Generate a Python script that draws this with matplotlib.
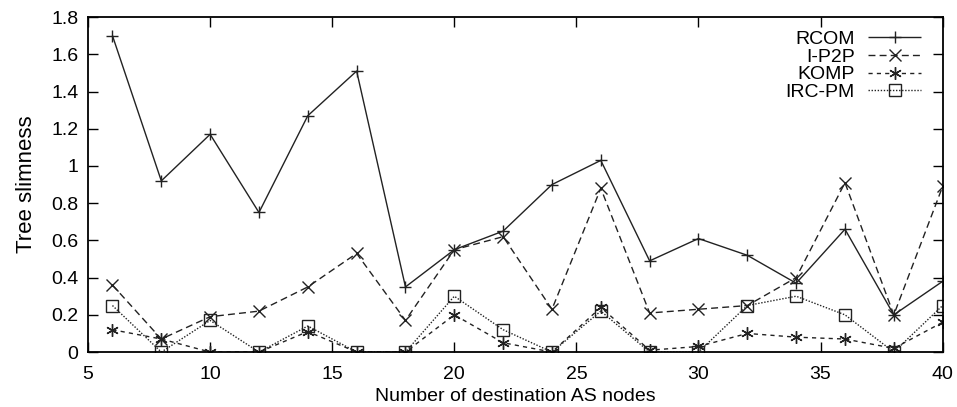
"""Tree slimness versus number of destination AS nodes."""

import matplotlib

matplotlib.use("Agg")
import matplotlib.pyplot as plt

plt.rcParams["font.family"] = ["Liberation Sans", "DejaVu Sans"]

NODES = [6, 8, 10, 12, 14, 16, 18, 20, 22, 24, 26, 28, 30, 32, 34, 36, 38, 40]
RCOM = [1.70, 0.92, 1.17, 0.75, 1.27, 1.51, 0.35, 0.55, 0.65, 0.90,
        1.03, 0.49, 0.61, 0.52, 0.37, 0.66, 0.20, 0.38]
I_P2P = [0.36, 0.07, 0.19, 0.22, 0.35, 0.53, 0.17, 0.55, 0.62, 0.23,
         0.88, 0.21, 0.23, 0.25, 0.40, 0.91, 0.20, 0.89]
KOMP = [0.12, 0.07, 0.00, 0.00, 0.11, 0.00, 0.00, 0.20, 0.05, 0.00,
        0.24, 0.01, 0.03, 0.10, 0.08, 0.07, 0.02, 0.16]
IRC_PM = [0.25, 0.00, 0.17, 0.00, 0.14, 0.00, 0.00, 0.30, 0.12, 0.00,
          0.22, 0.00, 0.00, 0.25, 0.30, 0.20, 0.00, 0.25]

SERIES = (
    ("RCOM", RCOM, "+", (0, ()), 9),
    ("I-P2P", I_P2P, "x", (0, (5, 3)), 8),
    ("KOMP", KOMP, (6, 2, 0), (0, (3, 3)), 9),
    ("IRC-PM", IRC_PM, "s", (0, (1, 1.2)), 8),
)


def main() -> None:
    fig = plt.figure(figsize=(9.57, 4.07), dpi=100)
    ax = fig.add_axes([0.092, 0.135, 0.893, 0.823])

    for label, values, marker, ls, size in SERIES:
        ax.plot(
            NODES,
            values,
            color="#222222",
            lw=1.0,
            ls=ls,
            marker=marker,
            markersize=size,
            markerfacecolor="none",
            markeredgewidth=1.0,
            label=label,
        )

    ax.set_xlim(5, 40)
    ax.set_ylim(0, 1.8)
    ax.set_xticks([5, 10, 15, 20, 25, 30, 35, 40])
    ax.set_yticks([0, 0.2, 0.4, 0.6, 0.8, 1.0, 1.2, 1.4, 1.6, 1.8])
    ax.set_yticklabels(["0", "0.2", "0.4", "0.6", "0.8", "1", "1.2", "1.4", "1.6", "1.8"])
    ax.tick_params(direction="in", top=True, right=True, length=7, width=1.0,
                   labelsize=14, pad=7)
    ax.tick_params(axis="x", pad=10)
    for spine in ax.spines.values():
        spine.set_linewidth(1.3)

    ax.set_xlabel("Number of destination AS nodes", fontsize=14, labelpad=4)
    ax.set_ylabel("Tree slimness", fontsize=16, labelpad=10)

    ax.legend(
        loc="upper right",
        bbox_to_anchor=(0.995, 1.012),
        frameon=False,
        markerfirst=False,
        fontsize=14,
        handlelength=2.7,
        handletextpad=0.7,
        labelspacing=0.0,
        borderpad=0.4,
    )

    fig.savefig("out.png", dpi=100)


if __name__ == "__main__":
    main()
